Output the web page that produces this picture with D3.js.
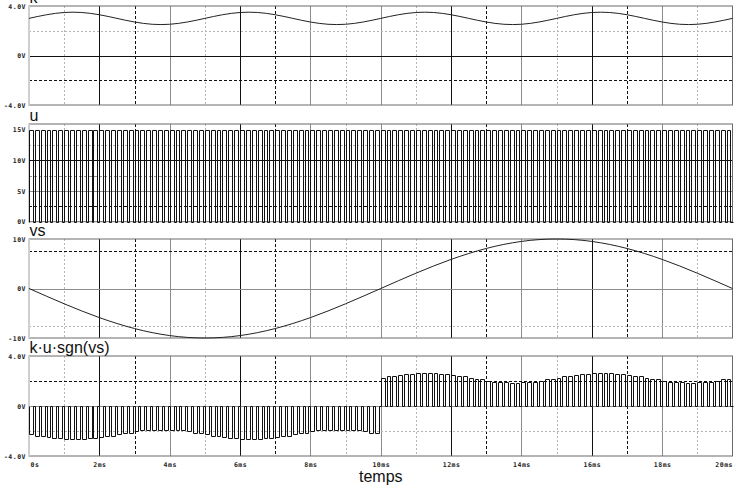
<!DOCTYPE html>
<html><head><meta charset="utf-8">
<script src="https://cdn.jsdelivr.net/npm/d3@7/dist/d3.min.js"></script>
<style>
body{margin:0;background:#fff}
.tick text{font-family:"DejaVu Sans Mono",monospace;font-weight:bold;font-size:6.5px;letter-spacing:0.5px;fill:#222}
.title{font-family:"Liberation Sans",Arial,sans-serif;font-size:16px;fill:#111}
</style>
</head><body>
<svg id="c" width="742" height="486"></svg>
<script>
// ---------------- DATA ----------------
const timeTickMs = [0,2,4,6,8,10,12,14,16,18,20];
const timeTickLabels = ["0s","2ms","4ms","6ms","8ms","10ms","12ms","14ms","16ms","18ms","20ms"];
const gridMs = [0,1,2,3,4,5,6,7,8,9,10,11,12,13,14,15,16,17,18,19,20];
const axisTitle = "temps";
const panelTitles = ["k","u","vs","k\u00b7u\u00b7sgn(vs)"];

// k, sampled every 0.25 ms
const kStepMs = 0.25;
const kValues = [
 3,3.155,3.294,3.405,3.476,3.5,3.476,3.405,3.294,3.155,3,2.845,2.706,2.595,2.524,2.5,2.524,2.595,2.706,2.845,
 3,3.155,3.294,3.405,3.476,3.5,3.476,3.405,3.294,3.155,3,2.845,2.706,2.595,2.524,2.5,2.524,2.595,2.706,2.845,
 3,3.155,3.294,3.405,3.476,3.5,3.476,3.405,3.294,3.155,3,2.845,2.706,2.595,2.524,2.5,2.524,2.595,2.706,2.845,
 3,3.155,3.294,3.405,3.476,3.5,3.476,3.405,3.294,3.155,3,2.845,2.706,2.595,2.524,2.5,2.524,2.595,2.706,2.845,
 3];

// u : switching pulses (start time in ms), width, high level
const uPulseStartMs = [
 0,0.167,0.333,0.5,0.667,0.833, 1,1.167,1.333,1.5,1.667,1.833, 2,2.167,2.333,2.5,2.667,2.833,
 3,3.167,3.333,3.5,3.667,3.833, 4,4.167,4.333,4.5,4.667,4.833, 5,5.167,5.333,5.5,5.667,5.833,
 6,6.167,6.333,6.5,6.667,6.833, 7,7.167,7.333,7.5,7.667,7.833, 8,8.167,8.333,8.5,8.667,8.833,
 9,9.167,9.333,9.5,9.667,9.833, 10,10.167,10.333,10.5,10.667,10.833, 11,11.167,11.333,11.5,11.667,11.833,
 12,12.167,12.333,12.5,12.667,12.833, 13,13.167,13.333,13.5,13.667,13.833, 14,14.167,14.333,14.5,14.667,14.833,
 15,15.167,15.333,15.5,15.667,15.833, 16,16.167,16.333,16.5,16.667,16.833, 17,17.167,17.333,17.5,17.667,17.833,
 18,18.167,18.333,18.5,18.667,18.833, 19,19.167,19.333,19.5,19.667,19.833];
const uPulseWidthMs = 0.11;
const uHighV = 15;

// vs, sampled every 0.5 ms
const vsStepMs = 0.5;
const vsValues = [0,-1.56,-3.09,-4.54,-5.88,-7.07,-8.09,-8.91,-9.51,-9.88,-10,-9.88,-9.51,-8.91,-8.09,-7.07,-5.88,-4.54,-3.09,-1.56,
 0,1.56,3.09,4.54,5.88,7.07,8.09,8.91,9.51,9.88,10,9.88,9.51,8.91,8.09,7.07,5.88,4.54,3.09,1.56,0];

// k·u·sgn(vs) pulse height envelope, every 0.25 ms
const kuStepMs = 0.25;
const kuEnvelope = [
 -2.25,-2.37,-2.47,-2.55,-2.61,-2.63,-2.61,-2.55,-2.47,-2.37,-2.25,-2.13,-2.03,-1.95,-1.89,-1.88,-1.89,-1.95,-2.03,-2.13,
 -2.25,-2.37,-2.47,-2.55,-2.61,-2.63,-2.61,-2.55,-2.47,-2.37,-2.25,-2.13,-2.03,-1.95,-1.89,-1.88,-1.89,-1.95,-2.03,-2.13,
 2.25,2.37,2.47,2.55,2.61,2.63,2.61,2.55,2.47,2.37,2.25,2.13,2.03,1.95,1.89,1.88,1.89,1.95,2.03,2.13,
 2.25,2.37,2.47,2.55,2.61,2.63,2.61,2.55,2.47,2.37,2.25,2.13,2.03,1.95,1.89,1.88,1.89,1.95,2.03,2.13,
 2.25];

const kTicks = [-4,0,4], kTickLabels = ["-4.0V","0V","4.0V"];
const uTicks = [0,5,10,15], uTickLabels = ["0V","5V","10V","15V"];
const vsTicks = [-10,0,10], vsTickLabels = ["-10V","0V","10V"];
const kuTicks = [-4,0,4], kuTickLabels = ["-4.0V","0V","4.0V"];

const kGrid = [2,0,-2], uGrid = [12.5,10,7.5,5,2.5], vsGrid = [7.5,0,-7.5], kuGrid = [2,0,-2];

// ---------------- STYLE / LAYOUT ----------------
const lineStyles = {
  bs:{stroke:"#111",dash:null},
  bd:{stroke:"#111",dash:"3,2"},
  gs:{stroke:"#8c8c8c",dash:null},
  gd:{stroke:"#8c8c8c",dash:"3,2"},
  ld:{stroke:"#b4b4b4",dash:"2,2"}
};
const vGridStyle = [null,"ld","bs","bd","gs","ld","bs","bd","gs","ld","gs","ld","bs","bd","gs","ld","bs","bd","gs","ld",null];
const panels = [
  {top:6,   bottom:105,   domain:[-4,4],   ticks:kTicks,  labels:kTickLabels,  grid:kGrid,  gstyle:["ld","bs","bd"]},
  {top:124, bottom:221.7, domain:[0,15.9], ticks:uTicks,  labels:uTickLabels,  grid:uGrid,  gstyle:["ld","bs","gd","gs","bd"]},
  {top:239, bottom:338,   domain:[-10,10], ticks:vsTicks, labels:vsTickLabels, grid:vsGrid, gstyle:["bd","gs","ld"]},
  {top:356, bottom:456,   domain:[-4,4],   ticks:kuTicks, labels:kuTickLabels, grid:kuGrid, gstyle:["bd","gs","ld"]}
];

const svg = d3.select("#c");
svg.append("rect").attr("width",742).attr("height",486).attr("fill","#fff");

const x = d3.scaleLinear().domain([0,20]).range([29,732.5]);

panels.forEach((p,pi)=>{
  p.y = d3.scaleLinear().domain(p.domain).range([p.bottom,p.top]);
  const g = svg.append("g");
  // vertical grid
  gridMs.forEach((t,i)=>{
    const s = vGridStyle[i]; if(!s) return;
    g.append("line").attr("x1",Math.round(x(t))+0.5).attr("x2",Math.round(x(t))+0.5)
      .attr("y1",p.top).attr("y2",p.bottom)
      .attr("stroke",lineStyles[s].stroke).attr("stroke-dasharray",lineStyles[s].dash)
      .attr("stroke-width",1);
  });
  // horizontal grid
  p.grid.forEach((v,i)=>{
    const s = p.gstyle[i];
    const yy = Math.round(p.y(v))+0.5;
    g.append("line").attr("x1",x(0)).attr("x2",x(20)).attr("y1",yy).attr("y2",yy)
      .attr("stroke",lineStyles[s].stroke).attr("stroke-dasharray",lineStyles[s].dash)
      .attr("stroke-width",1);
  });
  // border
  g.append("rect").attr("x",x(0)).attr("y",p.top).attr("width",x(20)-x(0)).attr("height",p.bottom-p.top)
    .attr("fill","none").attr("stroke","#6a6a6a").attr("stroke-width",1);
  g.append("line").attr("x1",x(0)).attr("x2",x(0)).attr("y1",p.top).attr("y2",p.bottom)
    .attr("stroke","#cfcfcf").attr("stroke-width",2);
  // y axis
  const ax = svg.append("g").attr("transform",`translate(${x(0)},0)`)
    .call(d3.axisLeft(p.y).tickValues(p.ticks).tickFormat((d,i)=>p.labels[i]).tickSize(0).tickPadding(3));
  ax.select(".domain").remove();
  // title
  svg.append("text").attr("class","title").attr("x",29.5).attr("y",p.top-3).text(panelTitles[pi]);
});

// ---- signals ----
const line = d3.line().x(d=>x(d[0]));
// k
const kPts = kValues.map((v,i)=>[i*kStepMs,v]);
svg.append("path").attr("d",line.y(d=>panels[0].y(d[1])).curve(d3.curveMonotoneX)(kPts))
  .attr("fill","none").attr("stroke","#222").attr("stroke-width",1);

// pulse builder
function pulsePts(ampFn){
  const pts=[[0,0]];
  uPulseStartMs.forEach(s=>{
    const a = ampFn(s);
    pts.push([s,0],[s,a],[s+uPulseWidthMs,a],[s+uPulseWidthMs,0]);
  });
  pts.push([20,0]);
  return pts;
}
const uPts = pulsePts(()=>uHighV);
svg.append("path").attr("d",d3.line().x(d=>Math.round(x(d[0]))+0.5).y(d=>Math.round(panels[1].y(d[1]))+0.5)(uPts))
  .attr("fill","none").attr("stroke","#111").attr("stroke-width",1);

// vs
const vsPts = vsValues.map((v,i)=>[i*vsStepMs,v]);
svg.append("path").attr("d",d3.line().x(d=>x(d[0])).y(d=>panels[2].y(d[1])).curve(d3.curveMonotoneX)(vsPts))
  .attr("fill","none").attr("stroke","#222").attr("stroke-width",1);

// k·u·sgn(vs)
const kuPts = pulsePts(s=>kuEnvelope[Math.round(s/kuStepMs)]);
svg.append("path").attr("d",d3.line().x(d=>Math.round(x(d[0]))+0.5).y(d=>Math.round(panels[3].y(d[1]))+0.5)(kuPts))
  .attr("fill","none").attr("stroke","#111").attr("stroke-width",1);

// x axis labels
const xa = svg.append("g").attr("transform",`translate(0,${panels[3].bottom})`)
  .call(d3.axisBottom(x).tickValues(timeTickMs).tickFormat((d,i)=>timeTickLabels[i]).tickSize(0).tickPadding(6));
xa.select(".domain").remove();
xa.selectAll(".tick text").attr("letter-spacing","1px")
  .attr("text-anchor",(d,i)=> i===0?"start":(i===timeTickMs.length-1?"end":"middle"))
  .attr("dx",(d,i)=> i===0?1:0);

svg.append("text").attr("class","title").attr("x",(x(0)+x(20))/2).attr("y",482)
  .attr("text-anchor","middle").text(axisTitle);
</script>
</body></html>
